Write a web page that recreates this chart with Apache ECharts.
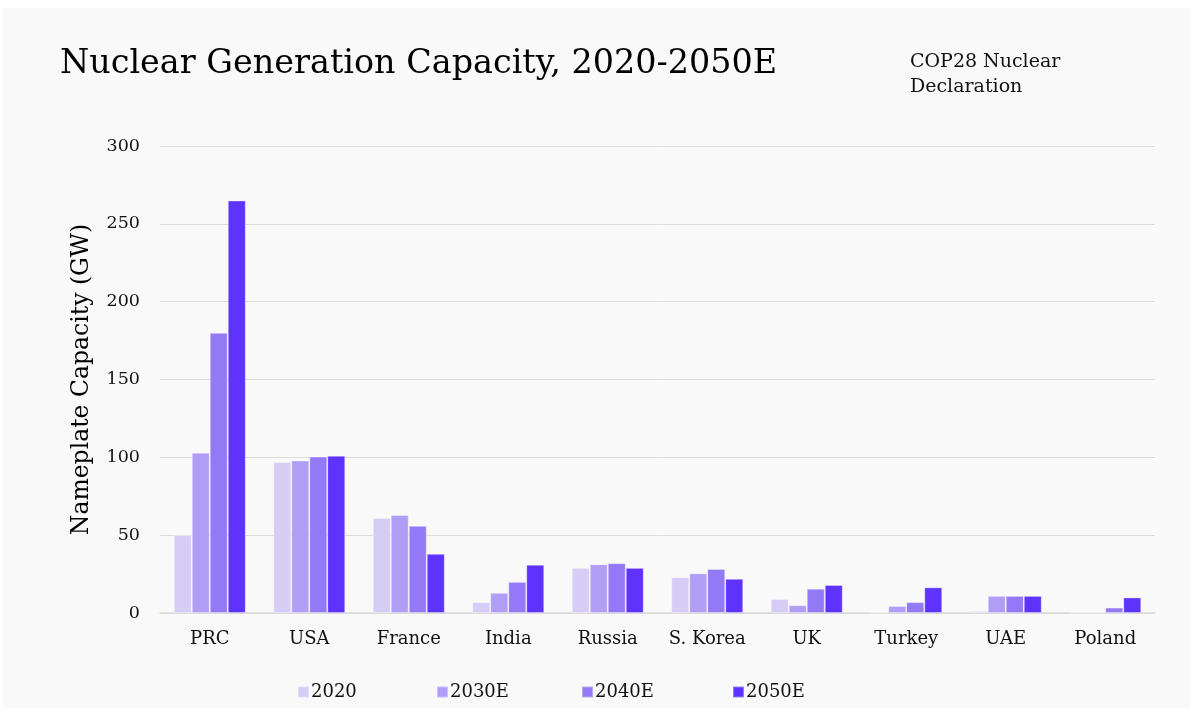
<!DOCTYPE html>
<html>
<head>
<meta charset="utf-8">
<script src="https://cdn.jsdelivr.net/npm/echarts@6/dist/echarts.min.js"></script>
<style>
html,body{margin:0;padding:0;background:#ffffff;}
#chart{position:absolute;left:3px;top:8px;width:1187px;height:700px;background:#f9f9f9;}
</style>
</head>
<body>
<div id="chart"></div>
<script>
const categories = ['PRC','USA','France','India','Russia','S. Korea','UK','Turkey','UAE','Poland'];
const seriesNames = ['2020','2030E','2040E','2050E'];
const v2020  = [50, 97, 61, 7, 29, 23, 9, 0, 1.3, 0];
const v2030E = [103, 98, 63, 13, 31.3, 25.5, 5, 4.5, 11, 0];
const v2040E = [180, 100.5, 56, 20, 32, 28.3, 15.6, 7, 11, 3.5];
const v2050E = [265, 101, 38, 31, 29, 22, 18, 16.5, 11, 10];
const yTicks = [0, 50, 100, 150, 200, 250, 300];
const colors = ['#d5cdf5', '#b09ef6', '#9479f7', '#5f33fd'];

const FONT = 'DejaVu Serif';
const values = [v2020, v2030E, v2040E, v2050E];
const legendLefts = [294, 433, 578, 729];

const chart = echarts.init(document.getElementById('chart'), null, {renderer:'canvas'});
chart.setOption({
  backgroundColor: '#f9f9f9',
  animation: false,
  textStyle: {fontFamily: FONT},
  color: colors,
  title: [
    {text: 'Nuclear Generation Capacity, 2020-2050E', left: 52, top: 35,
     textStyle: {fontFamily: FONT, fontSize: 33.4, fontWeight: 'normal', color: '#000'}},
    {text: 'COP28 Nuclear\nDeclaration', left: 902, top: 37,
     textStyle: {fontFamily: FONT, fontSize: 19, fontWeight: 'normal', color: '#111', lineHeight: 25}}
  ],
  legend: seriesNames.map((n, i) => ({
    data: [n],
    bottom: 7,
    left: legendLefts[i],
    padding: 0,
    itemWidth: 11,
    itemHeight: 11,
    icon: 'rect',
    textStyle: {fontFamily: FONT, fontSize: 18, color: '#111', padding: [0,0,0,-3]}
  })),
  grid: {left: 157, right: 35, top: 138, bottom: 95, containLabel: false},
  xAxis: {
    type: 'category',
    data: categories,
    axisTick: {show: false},
    axisLine: {lineStyle: {color: '#d9d9d9', width: 1.5}},
    axisLabel: {fontFamily: FONT, fontSize: 18, color: '#111', margin: 17, interval: 0}
  },
  yAxis: {
    type: 'value',
    min: yTicks[0],
    max: yTicks[yTicks.length-1],
    interval: yTicks[1]-yTicks[0],
    name: 'Nameplate Capacity (GW)',
    nameLocation: 'middle',
    nameGap: 66,
    nameTextStyle: {fontFamily: FONT, fontSize: 23.5, color: '#000'},
    axisLine: {show: false},
    axisTick: {show: false},
    splitLine: {lineStyle: {color: '#dcdcdc', width: 1}},
    axisLabel: {fontFamily: FONT, fontSize: 17.5, color: '#111', margin: 20}
  },
  series: seriesNames.map((n, i) => ({
    name: n,
    type: 'bar',
    data: values[i],
    barGap: '0%',
    barCategoryGap: '27.6%',
    itemStyle: {color: colors[i], borderColor: 'rgba(255,255,255,0.35)', borderWidth: 1}
  }))
});
</script>
</body>
</html>
